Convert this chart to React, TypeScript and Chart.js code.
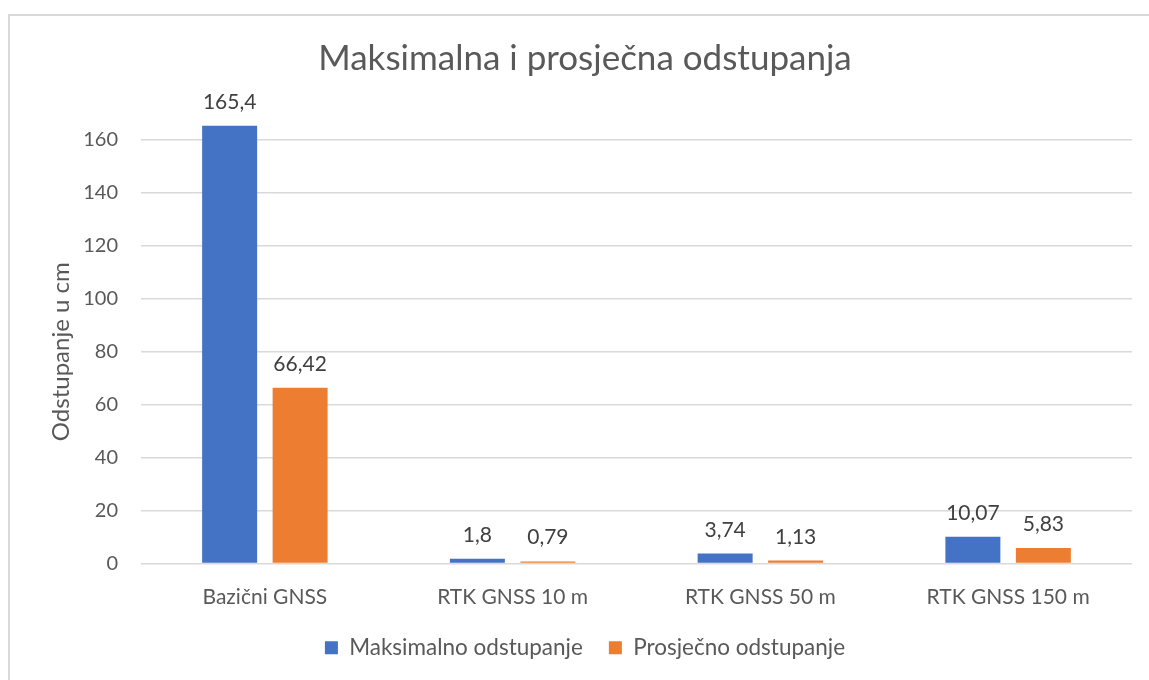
import React, { useEffect, useRef } from "react";
import { Chart, registerables } from "chart.js";

Chart.register(...registerables);

const categories = ["Bazični GNSS", "RTK GNSS 10 m", "RTK GNSS 50 m", "RTK GNSS 150 m"];
const maxValues = [165.4, 1.8, 3.74, 10.07];
const avgValues = [66.42, 0.79, 1.13, 5.83];
const yTicks = [0, 20, 40, 60, 80, 100, 120, 140, 160];

const FONT = "Lato, 'Noto Sans', sans-serif";

const valueLabels = {
  id: "valueLabels",
  afterDatasetsDraw(chart: any) {
    const ctx = chart.ctx;
    ctx.save();
    ctx.font = `21px ${FONT}`;
    ctx.fillStyle = "#404040";
    ctx.textAlign = "center";
    ctx.textBaseline = "alphabetic";
    chart.data.datasets.forEach((ds: any, i: number) => {
      const meta = chart.getDatasetMeta(i);
      meta.data.forEach((el: any, j: number) => {
        const txt = String(ds.data[j]).replace(".", ",");
        ctx.fillText(txt, el.x, el.y - 17);
      });
    });
    ctx.restore();
  },
};

export default function App() {
  const ref = useRef<HTMLCanvasElement>(null);
  useEffect(() => {
    if (!ref.current) return;
    const chart = new Chart(ref.current, {
      type: "bar",
      data: {
        labels: categories,
        datasets: [
          {
            label: "Maksimalno odstupanje",
            data: maxValues,
            backgroundColor: "#4472C4",
            clip: false as any,
            categoryPercentage: 0.569,
            barPercentage: 0.78,
          },
          {
            label: "Prosječno odstupanje",
            data: avgValues,
            backgroundColor: "#ED7D31",
            clip: false as any,
            categoryPercentage: 0.569,
            barPercentage: 0.78,
          },
        ],
      },
      options: {
        animation: false,
        responsive: false,
        layout: { padding: { left: 0, right: 0, top: 0, bottom: 11 } },
        plugins: {
          title: {
            display: true,
            text: "Maksimalna i prosječna odstupanja",
            color: "#595959",
            font: { family: FONT, size: 35, weight: "normal" as any, lineHeight: 1.2 },
            padding: { top: 22, bottom: 60 },
          },
          legend: {
            position: "bottom",
            labels: {
              color: "#595959",
              font: { family: FONT, size: 22.5 },
              boxWidth: 13,
              boxHeight: 13,
              padding: 26,
            },
          },
          tooltip: { enabled: false },
        },
        scales: {
          x: {
            grid: { display: false, drawTicks: false },
            border: { display: false },
            ticks: { color: "#595959", font: { family: FONT, size: 21 }, padding: 21 },
            afterFit(scale: any) {
              scale.height = 47;
            },
          },
          y: {
            min: 0,
            max: 160,
            afterBuildTicks(scale: any) {
              scale.ticks = yTicks.map((v) => ({ value: v }));
            },
            grid: { color: "#d9d9d9", lineWidth: 1.5, drawTicks: false },
            border: { display: false },
            ticks: { color: "#595959", font: { family: FONT, size: 20 }, padding: 23 },
            title: {
              display: true,
              text: "Odstupanje u cm",
              color: "#595959",
              font: { family: FONT, size: 24 },
              padding: { top: 37, bottom: 0 },
            },
            afterFit(scale: any) {
              scale.width = 131;
            },
          },
          y2: {
            position: "right",
            display: true,
            grid: { display: false, drawTicks: false },
            border: { display: false },
            ticks: { display: false },
            afterFit(scale: any) {
              scale.width = 28;
            },
          },
        },
      },
      plugins: [valueLabels],
    });
    return () => chart.destroy();
  }, []);

  return (
    <div
      style={{
        position: "absolute",
        left: 8,
        top: 14,
        width: 1141,
        height: 666,
        overflow: "hidden",
        borderTop: "2px solid #d9d9d9",
        borderLeft: "2px solid #d9d9d9",
        boxSizing: "border-box",
        background: "#fff",
      }}
    >
      <canvas ref={ref} width={1150} height={664} style={{ display: "block" }} />
    </div>
  );
}
